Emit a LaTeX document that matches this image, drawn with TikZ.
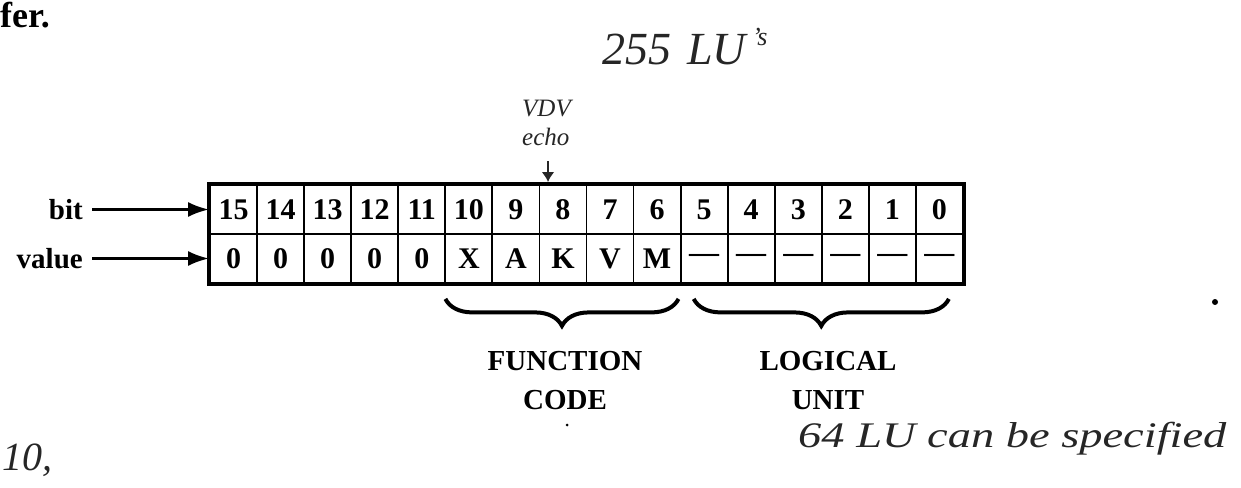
\documentclass[tikz,border=0pt]{standalone}
\usepackage{fontspec}
\setmainfont{Liberation Serif}
\usetikzlibrary{arrows.meta,decorations.pathreplacing}
\begin{document}
\begin{tikzpicture}[x=1pt,y=-1pt,
  cell/.style={draw, line width=1.8pt, minimum width=47.06pt, minimum height=49pt, inner sep=0pt,
               font=\fontsize{30}{30}\selectfont\bfseries},
  lbl/.style={font=\fontsize{29}{39}\selectfont\bfseries, align=center, inner sep=0pt},
  hand/.style={inner sep=0pt, text=black!85},
  arr/.style={line width=3pt, -{Latex[length=21pt,width=15pt]}},
  brc/.style={decorate, decoration={brace, mirror, amplitude=27pt}, line width=4pt},
]
\useasboundingbox (0,0) rectangle (1241,487);

% header fragment
\node[anchor=base west, inner sep=0pt, font=\fontsize{36}{36}\selectfont\bfseries] (fer) at (0,28) {fer.};

% bit row
\foreach \b [count=\i from 0] in {15,14,13,12,11,10,9,8,7,6,5,4,3,2,1,0}
  \node[cell] (b\b) at ({210+(\i+0.5)*47.06},209.5) {\b};
% value row
\foreach \b/\v [count=\i from 0] in {15/0,14/0,13/0,12/0,11/0,10/X,9/A,8/K,7/V,6/M,
    5/\textemdash,4/\textemdash,3/\textemdash,2/\textemdash,1/\textemdash,0/\textemdash}
  \node[cell] (v\b) at ({210+(\i+0.5)*47.06},258.5) {\v};
% outer frame
\draw[line width=4pt] (b15.north west) rectangle (v0.south east);

% row labels and arrows
\node[lbl, anchor=east] (bitl) at (83,209.5) {bit};
\node[lbl, anchor=east] (vall) at (83,258.5) {value};
\draw[arr, shorten <=9pt] (bitl.east) -- (b15.west);
\draw[arr, shorten <=9pt] (vall.east) -- (v15.west);

% braces
\draw[brc] ([xshift=1pt,yshift=-15pt]v10.south west) -- ([xshift=-3pt,yshift=-15pt]v6.south east);
\draw[brc] ([xshift=14pt,yshift=-15pt]v5.south west) -- ([xshift=-15pt,yshift=-15pt]v0.south east);
\node[lbl] (fc) at (565,381) {FUNCTION\\CODE};
\node[lbl] (lu) at (828,381) {LOGICAL\\UNIT};

% handwritten notes
\node[hand, anchor=base west, font=\fontsize{46}{46}\selectfont\itshape] (lus) at (602,64)
  {255\hspace{16pt}LU\hspace{6pt}\raisebox{18pt}{\fontsize{26}{26}\selectfont 's}};
\node[hand, align=left, anchor=north west, font=\fontsize{25}{29}\selectfont\itshape] (vdv) at (522,100) {VDV\\echo};
\coordinate (mkt) at (548,161);
\coordinate (mkb) at (548,182);
\draw[line width=2.5pt, black!85, -{Latex[length=10pt,width=13pt]}] (mkt) -- (mkb);
\node[hand, anchor=base west, font=\fontsize{36}{36}\selectfont\itshape] (spec) at (798,447)
  {\scalebox{1.29}[1]{64 LU can be specified}};
\node[hand, anchor=base west, font=\fontsize{40}{40}\selectfont\itshape] (ten) at (2,470) {10,};
\fill (1215,302) circle (3pt);
\fill (567,425) circle (1.5pt);
\end{tikzpicture}
\end{document}
